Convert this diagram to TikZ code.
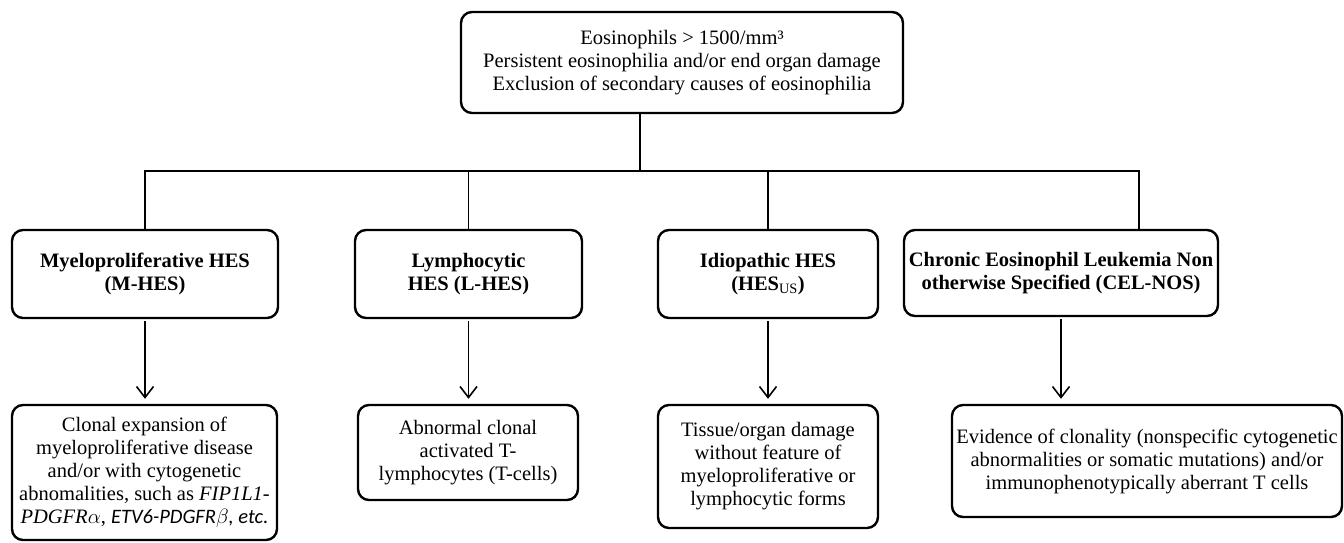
\documentclass[tikz,border=0pt]{standalone}
\usepackage{fontspec}
\setmainfont{Liberation Serif}
\newfontfamily\calibri{Carlito}
\usetikzlibrary{arrows.meta, calc, positioning}

\tikzset{
    box/.style={draw, line width=2.4pt, rounded corners=11pt, align=center, inner sep=0pt,
        font=\fontsize{20.5}{23}\selectfont},
    head/.style={box, font=\fontsize{20.5}{23}\selectfont\bfseries},
    link/.style={line width=1.6pt},
    down/.style={link, -{Straight Barb[length=11pt, width=17pt, line width=1.6pt]},
        shorten <=2pt, shorten >=5pt}
}

\begin{document}
\begin{tikzpicture}[x=1pt, y=-1pt]
        \useasboundingbox (0,0) rectangle (1344,542);

        \node[box, minimum width=442pt, minimum height=101pt] (crit) at (682,62.5)
            {Eosinophils > 1500/mm³\\Persistent eosinophilia and/or end organ damage\\Exclusion of secondary causes of eosinophilia};

        \node[head, minimum width=266pt, minimum height=88pt] (mhes) at (145,274) {Myeloproliferative HES\\(M-HES)};
        \node[head, minimum width=227pt, minimum height=88pt] (lhes) at (468.5,274) {Lymphocytic\\HES (L-HES)};
        \node[head, minimum width=220pt, minimum height=88pt] (ihes) at (768,274) {Idiopathic HES\\(HES\textsubscript{\mdseries US})};
        \node[head, minimum width=314pt, minimum height=86pt] (cel) at (1061,273) {Chronic Eosinophil Leukemia Non\\otherwise Specified (CEL-NOS)};

        \node[box, minimum width=265pt, minimum height=135pt] (mdesc) at (144.5,472.5)
            {Clonal expansion of\\myeloproliferative disease\\and/or with cytogenetic\\abnomalities, such as \textit{FIP1L1-}\\\textit{PDGFR}$\alpha$, {\calibri\itshape ETV6-PDGFR$\beta$, etc.}};
        \node[box, minimum width=220pt, minimum height=95pt] (ldesc) at (468,452.5)
            {Abnormal clonal\\activated T-\\lymphocytes (T-cells)};
        \node[box, minimum width=220pt, minimum height=123pt] (idesc) at (768,466.5)
            {Tissue/organ damage\\without feature of\\myeloproliferative or\\lymphocytic forms};
        \node[box, minimum width=390pt, minimum height=112pt] (cdesc) at (1147,461)
            {Evidence of clonality (nonspecific cytogenetic\\abnormalities or somatic mutations) and/or\\immunophenotypically aberrant T cells};

        \coordinate (bus) at (640,171);
        \coordinate (celin) at (1139,230);

        \draw[link] (crit.south -| bus) -- (bus);
        \draw[link] (mhes.north) |- (celin |- bus) -- (celin);
        \draw[link] (lhes.north) -- (lhes.north |- bus);
        \draw[link] (ihes.north) -- (ihes.north |- bus);

        \draw[down] (mhes.south) -- (mhes.south |- mdesc.north);
        \draw[down] (lhes.south) -- (lhes.south |- ldesc.north);
        \draw[down] (ihes.south) -- (idesc.north);
        \draw[down] (cel.south) -- (cel.south |- cdesc.north);
\end{tikzpicture}
\end{document}
